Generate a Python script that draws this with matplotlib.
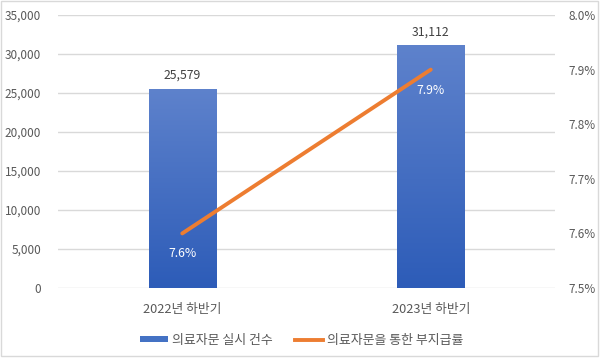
import matplotlib
matplotlib.use("Agg")
import matplotlib.pyplot as plt
import numpy as np
from matplotlib.colors import LinearSegmentedColormap
from matplotlib.patches import Rectangle
from matplotlib.lines import Line2D

plt.rcParams['font.family'] = ['Noto Sans CJK KR', 'DejaVu Sans']

categories = ['2022년 하반기', '2023년 하반기']
counts = [25579, 31112]
rates = [7.6, 7.9]
count_labels = ['25,579', '31,112']
rate_labels = ['7.6%', '7.9%']
left_ticks = [0, 5000, 10000, 15000, 20000, 25000, 30000, 35000]
right_ticks = [7.5, 7.6, 7.7, 7.8, 7.9, 8.0]
series_names = ['의료자문 실시 건수', '의료자문을 통한 부지급률']

gray = '#595959'
grid = '#D9D9D9'
orange = '#ED7D31'

fig = plt.figure(figsize=(6, 3.58), dpi=100)
fig.patches.append(Rectangle((0.002, 0.006), 0.994, 0.99, transform=fig.transFigure,
                             fill=False, edgecolor='#D9D9D9', linewidth=1))
ax = fig.add_axes([0.0967, 0.1955, 0.8283, 0.7625])
x = np.arange(len(categories))
width = 0.27
cmap = LinearSegmentedColormap.from_list('g', ['#2D5CB8', '#5E82CC'])
grad = np.linspace(0, 1, 256).reshape(-1, 1)
bars = ax.bar(x, counts, width, color='none', zorder=2)
for b in bars:
    im = ax.imshow(grad, cmap=cmap, aspect='auto', origin='lower',
                   extent=[b.get_x(), b.get_x() + b.get_width(), 0, b.get_height()], zorder=2)
    im.set_clip_path(b)
ax.set_xlim(-0.5, 1.5)
ax.set_ylim(0, 35000)
for xi, c, lab in zip(x, counts, count_labels):
    ax.annotate(lab, (xi, c), xytext=(0, 5), textcoords='offset points', ha='center', va='bottom',
                fontsize=8.8, color='#404040')
ax.set_yticks(left_ticks)
ax.set_yticklabels([f'{v:,}' for v in left_ticks])
ax.set_xticks(x)
ax.set_xticklabels(categories)
ax.tick_params(axis='x', length=0, labelsize=9.2, colors=gray, pad=11)
ax.tick_params(axis='y', length=0, labelsize=8.5, colors=gray, pad=12)
ax.grid(axis='y', color=grid, linewidth=1, zorder=0)
ax.set_axisbelow(True)
for s in ax.spines.values():
    s.set_visible(False)

ax2 = ax.twinx()
ax2.set_ylim(7.5, 8.0)
ax2.plot(x, rates, color=orange, linewidth=2.8, zorder=5, solid_capstyle='round')
for xi, r, lab in zip(x, rates, rate_labels):
    ax2.annotate(lab, (xi, r), xytext=(0, -10), textcoords='offset points', ha='center', va='top',
                 fontsize=8.8, color='white')
ax2.set_yticks(right_ticks)
ax2.set_yticklabels([f'{v:.1f}%' for v in right_ticks])
ax2.tick_params(axis='y', length=0, labelsize=8.5, colors=gray, pad=10)
for s in ax2.spines.values():
    s.set_visible(False)

handles = [Rectangle((0, 0), 1, 1, facecolor='#4472C4'),
           Line2D([0], [0], color=orange, linewidth=2.8)]
fig.legend(handles, series_names, loc='center', bbox_to_anchor=(0.503, 0.05), ncol=2, frameon=False,
           fontsize=9.3, labelcolor=gray, handlelength=2.2, handleheight=0.45, columnspacing=1.7,
           handletextpad=0.3)

fig.savefig('out.png', dpi=100)
